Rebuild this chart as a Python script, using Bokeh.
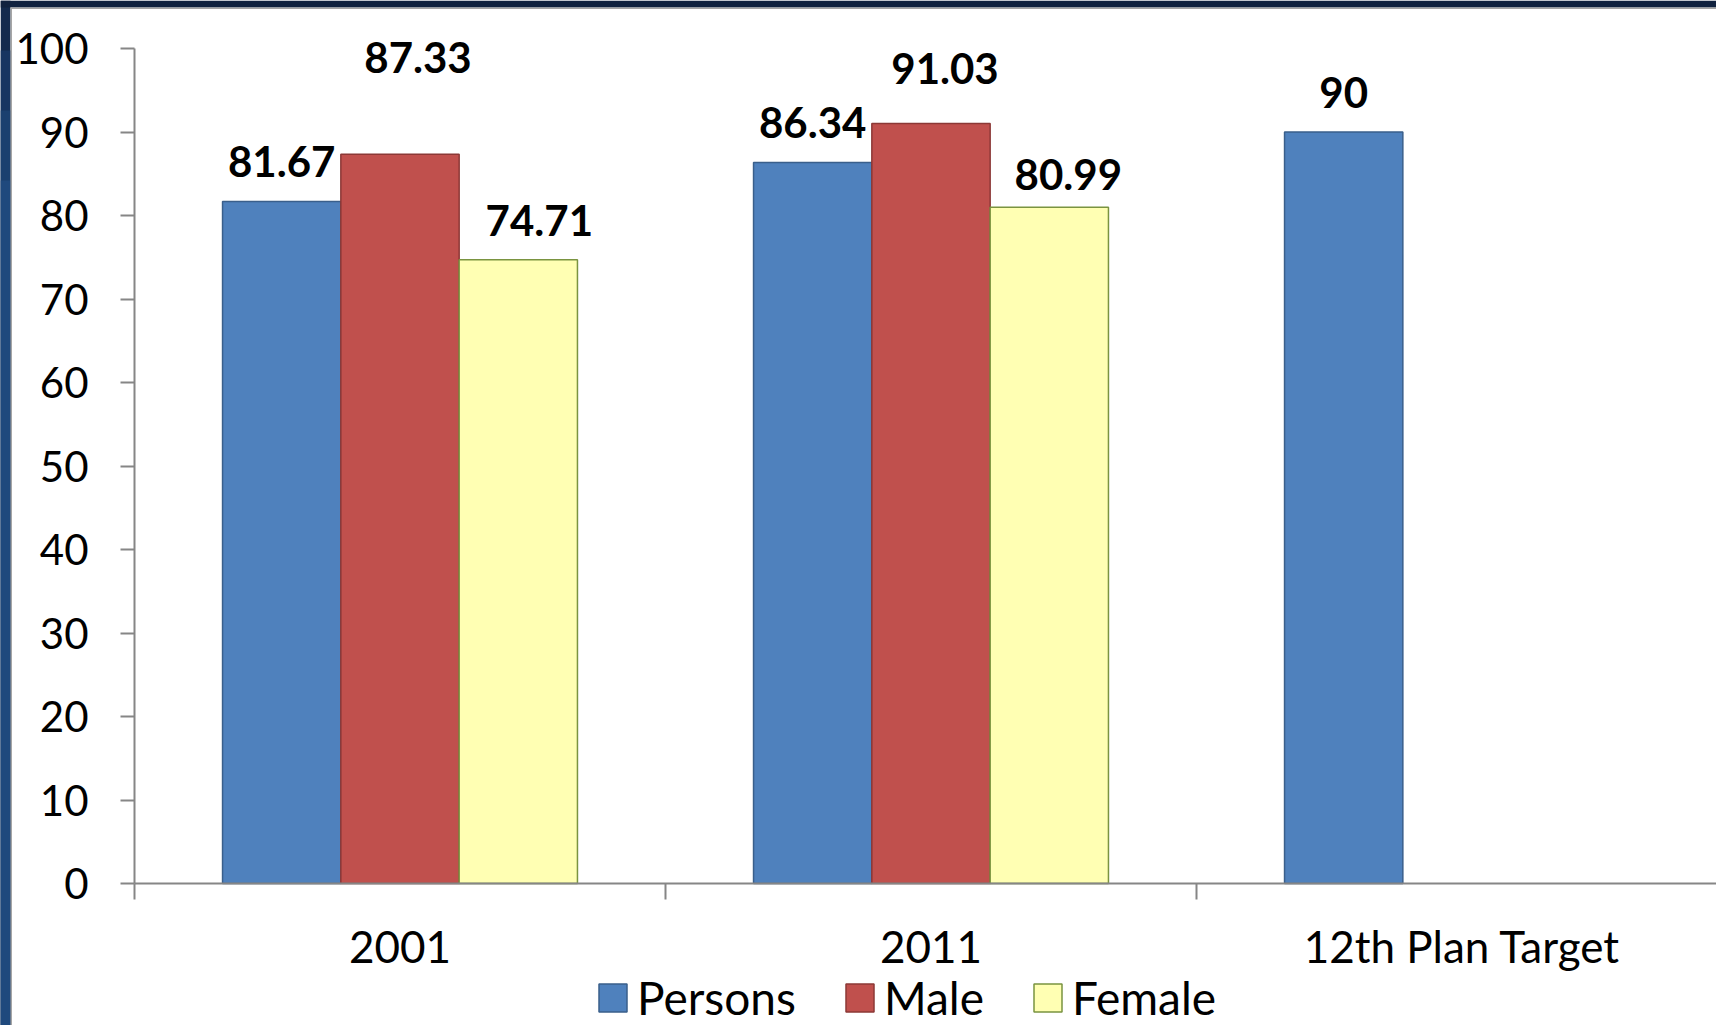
from bokeh.plotting import figure
from bokeh.models import (ColumnDataSource, Range1d, FixedTicker, LabelSet,
                          Legend, LegendItem, BoxAnnotation)
from bokeh.core.properties import value
from bokeh.embed import file_html
from bokeh.resources import INLINE

# ---------------- data ----------------
categories = ["2001", "2011", "12th Plan Target"]
series_names = ["Persons", "Male", "Female"]
persons = [81.67, 86.34, 90]
male = [87.33, 91.03, None]
female = [74.71, 80.99, None]
y_ticks = [0, 10, 20, 30, 40, 50, 60, 70, 80, 90, 100]

# ---------------- style / layout ----------------
fills = ["#4F81BD", "#C0504D", "#FFFFB3"]
edges = ["#3A5F8B", "#8C3836", "#7A9440"]
# manual data-label nudges (px), per series, per category
label_dx = [[0, 0, 0], [18, 14, 0], [21, 19, 0]]
label_dy = [[40, 40, 40], [97, 55, 0], [39, 33, 0]]
FONT = "Lato"
GREY = "#868686"
BAR_W = 0.2228

W, H = 1716, 1025
LEFT = 134            # pixel column of the value axis
AXIS_TOP_PX = 48      # pixel row of value 100
AXIS_ZERO_PX = 883    # pixel row of value 0
CAT_PX = 531          # px per category
ppu = (AXIS_ZERO_PX - AXIS_TOP_PX) / 100.0
y_start = -(H - AXIS_ZERO_PX) / ppu
y_end = 100 + AXIS_TOP_PX / ppu
x_start = -LEFT / CAT_PX
x_end = (W - LEFT) / CAT_PX

p = figure(width=W, height=H, output_backend="svg", toolbar_location=None,
           x_range=Range1d(x_start, x_end), y_range=Range1d(y_start, y_end),
           min_border_left=0, min_border_right=0, min_border_top=0,
           min_border_bottom=0)
p.outline_line_color = None
p.xgrid.visible = False
p.ygrid.visible = False
p.background_fill_color = "white"
p.border_fill_color = "white"

# slide frame (dark band at top and left of the picture)
def px_x(px):
    return x_start + px / CAT_PX

def px_y(py):
    return y_end - py / ppu

band_steps = [(0, "#132A4D"), (50, "#173561"), (110, "#1B406F"), (180, "#1F497D")]
for t, c in band_steps:
    p.add_layout(BoxAnnotation(left=x_start, right=px_x(10), top=px_y(t),
                               bottom=y_start, fill_color=c, fill_alpha=1,
                               line_color=None, level="underlay"))
p.add_layout(BoxAnnotation(left=x_start, right=x_end, top=y_end, bottom=px_y(7),
                           fill_color="#10223F", fill_alpha=1, line_color=None,
                           level="underlay"))
p.add_layout(BoxAnnotation(left=px_x(10), right=px_x(11.5), top=px_y(7),
                           bottom=y_start, fill_color="#A6A6A6", fill_alpha=1,
                           line_color=None, level="underlay"))
p.add_layout(BoxAnnotation(left=px_x(10), right=x_end, top=px_y(7),
                           bottom=px_y(8.5), fill_color="#A6A6A6", fill_alpha=1,
                           line_color=None, level="underlay"))

all_series = [persons, male, female]
renderers = []
for si, vals in enumerate(all_series):
    xs, tops, texts, dxs, dys = [], [], [], [], []
    for ci, v in enumerate(vals):
        if v is None:
            continue
        xs.append(ci + 0.5 + (si - 1) * BAR_W)
        tops.append(v)
        texts.append("{:g}".format(v))
        dxs.append(label_dx[si][ci])
        dys.append(label_dy[si][ci])
    src = ColumnDataSource(dict(x=xs, top=tops, text=texts, dx=dxs, dy=dys))
    r = p.vbar(x="x", top="top", bottom=0, width=BAR_W, source=src,
               fill_color=fills[si], line_color=edges[si], line_width=1.5)
    renderers.append(r)
    lbl = LabelSet(x="x", y="top", text="text", x_offset="dx", y_offset="dy",
                   source=src, text_align="center", text_baseline="middle",
                   text_font=value(FONT), text_font_style="bold",
                   text_font_size="42px", text_color="black")
    p.add_layout(lbl)

# y axis (drawn at x = 0)
ya = p.yaxis[0]
ya.fixed_location = 0
ya.ticker = FixedTicker(ticks=y_ticks)
ya.bounds = (0, 100)
ya.axis_line_color = GREY
ya.axis_line_width = 2
ya.major_tick_line_color = GREY
ya.major_tick_line_width = 2
ya.major_tick_out = 14
ya.major_tick_in = 0
ya.minor_tick_line_color = None
ya.major_label_text_font = FONT
ya.major_label_text_font_size = "42px"
ya.major_label_text_color = "black"
ya.major_label_standoff = 32

# x axis at value 0: labels at category centres, tick marks at boundaries
xa = p.xaxis[0]
xa.fixed_location = 0
xa.bounds = (0, x_end)
xa.ticker = FixedTicker(ticks=[i + 0.5 for i in range(len(categories))],
                        minor_ticks=list(range(len(categories) + 1)))
xa.major_label_overrides = {i + 0.5: c for i, c in enumerate(categories)}
xa.axis_line_color = GREY
xa.axis_line_width = 2
xa.major_tick_line_color = None
xa.major_tick_out = 0
xa.major_tick_in = 0
xa.minor_tick_line_color = GREY
xa.minor_tick_line_width = 2
xa.minor_tick_out = 16
xa.minor_tick_in = 0
xa.major_label_text_font = FONT
xa.major_label_text_font_size = "44px"
xa.major_label_text_color = "black"
xa.major_label_standoff = 20

legend = Legend(items=[LegendItem(label=n, renderers=[r])
                       for n, r in zip(series_names, renderers)],
                location=(595, 0), orientation="horizontal",
                glyph_width=35, glyph_height=35, label_standoff=7,
                spacing=46, padding=0, margin=0,
                border_line_color=None, background_fill_alpha=0,
                label_text_font=FONT, label_text_font_size="46px",
                label_text_color="black")
p.add_layout(legend)

open("out.html", "w").write(file_html(p, INLINE))
